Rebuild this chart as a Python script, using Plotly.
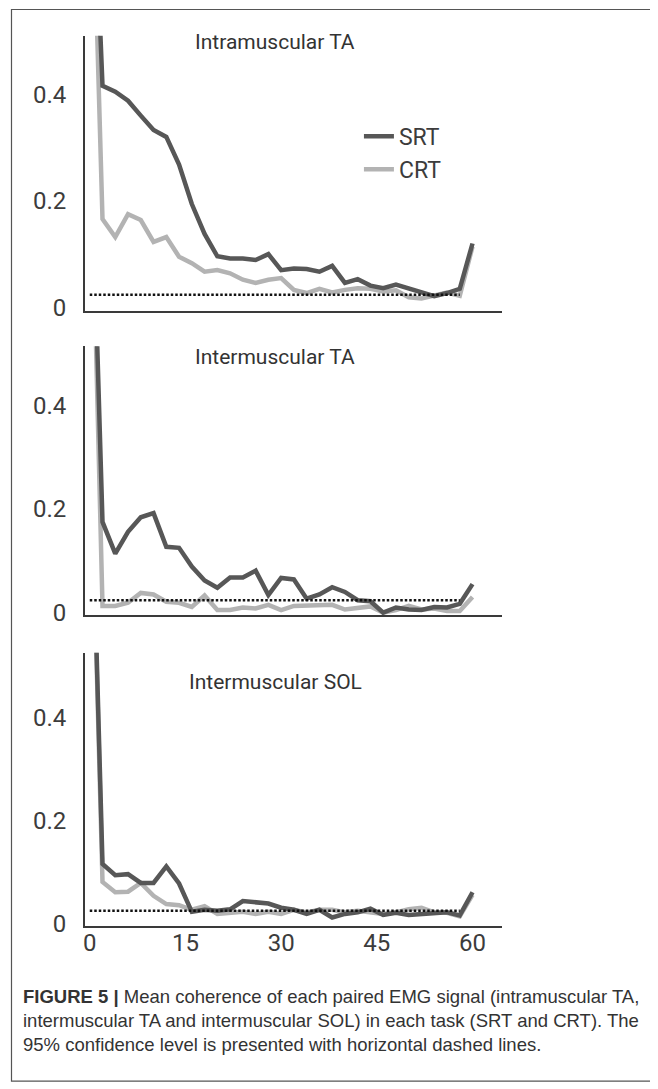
import plotly.graph_objects as go

# ---------------- data ----------------
freq = [0, 2, 4, 6, 8, 10, 12, 14, 16, 18, 20, 22, 24, 26, 28, 30,
        32, 34, 36, 38, 40, 42, 44, 46, 48, 50, 52, 54, 56, 58, 60]

intra_ta_srt = [1.0, 0.416, 0.405, 0.388, 0.360, 0.333, 0.320, 0.268, 0.194, 0.138, 0.096,
                0.092, 0.092, 0.089, 0.100, 0.070, 0.073, 0.072, 0.067, 0.078, 0.046,
                0.053, 0.041, 0.036, 0.043, 0.036, 0.030, 0.021, 0.027, 0.035, 0.120]
intra_ta_crt = [1.0, 0.166, 0.132, 0.175, 0.164, 0.123, 0.132, 0.095, 0.083, 0.067, 0.070,
                0.064, 0.052, 0.046, 0.052, 0.055, 0.033, 0.027, 0.035, 0.028, 0.033,
                0.036, 0.035, 0.030, 0.032, 0.019, 0.017, 0.022, 0.028, 0.022, 0.114]

inter_ta_srt = [1.0, 0.175, 0.114, 0.156, 0.184, 0.192, 0.127, 0.125, 0.089, 0.062, 0.048,
                0.068, 0.068, 0.081, 0.034, 0.067, 0.064, 0.027, 0.035, 0.049, 0.040,
                0.024, 0.022, 0.000, 0.010, 0.006, 0.005, 0.011, 0.010, 0.017, 0.055]
inter_ta_crt = [1.0, 0.013, 0.013, 0.019, 0.038, 0.035, 0.021, 0.019, 0.011, 0.033, 0.005,
                0.005, 0.010, 0.008, 0.015, 0.005, 0.013, 0.013, 0.015, 0.015, 0.006,
                0.010, 0.012, 0.000, 0.005, 0.013, 0.006, 0.008, 0.003, 0.003, 0.030]

inter_sol_srt = [1.0, 0.116, 0.094, 0.096, 0.079, 0.079, 0.111, 0.078, 0.023, 0.027, 0.025,
                 0.028, 0.044, 0.041, 0.039, 0.031, 0.027, 0.019, 0.027, 0.012, 0.019,
                 0.022, 0.029, 0.017, 0.021, 0.017, 0.019, 0.022, 0.022, 0.016, 0.061]
inter_sol_crt = [1.0, 0.081, 0.061, 0.062, 0.079, 0.054, 0.038, 0.036, 0.027, 0.034, 0.019,
                 0.021, 0.023, 0.019, 0.023, 0.019, 0.027, 0.022, 0.027, 0.027, 0.022,
                 0.025, 0.023, 0.019, 0.022, 0.028, 0.031, 0.022, 0.021, 0.014, 0.056]

panel_titles = ["Intramuscular TA", "Intermuscular TA", "Intermuscular SOL"]
conf_level = [0.024, 0.024, 0.025]
conf_x = [0, 58]
y_tickvals = [0, 0.2, 0.4]
y_ticktext = ["0", "0.2", "0.4"]
x_tickvals = [0, 15, 30, 45, 60]
x_ticktext = ["0", "15", "30", "45", "60"]

# ---------------- layout geometry ----------------
W, H = 658, 1089
SRT_COLOR = "#575757"
CRT_COLOR = "#b3b3b3"
AX_COLOR = "#3a3a3a"
TXT_COLOR = "#3c3c3c"
FONT = "Roboto, 'Liberation Sans', sans-serif"

x_px = (75, 494)
x_range = [-0.78, 64.7]
panels_px = [(28, 306), (342, 614), (652, 928)]
y_ranges = [[-0.006, 0.51], [-0.005, 0.514], [-0.004, 0.525]]
title_px = [(266, 34), (266, 353), (266, 682)]

srt_series = [intra_ta_srt, inter_ta_srt, inter_sol_srt]
crt_series = [intra_ta_crt, inter_ta_crt, inter_sol_crt]

fig = go.Figure()

for i in range(3):
    xa = "x" if i == 0 else f"x{i+1}"
    ya = "y" if i == 0 else f"y{i+1}"
    fig.add_trace(go.Scatter(x=freq, y=crt_series[i], mode="lines", name="CRT",
                             line=dict(color=CRT_COLOR, width=4.5),
                             showlegend=(i == 0), legendrank=2,
                             xaxis=xa, yaxis=ya, hoverinfo="skip"))
    fig.add_trace(go.Scatter(x=freq, y=srt_series[i], mode="lines", name="SRT",
                             line=dict(color=SRT_COLOR, width=4.5),
                             showlegend=(i == 0), legendrank=1,
                             xaxis=xa, yaxis=ya, hoverinfo="skip"))
    fig.add_trace(go.Scatter(x=conf_x, y=[conf_level[i]] * 2, mode="lines",
                             line=dict(color="#111111", width=2.5, dash="2.5px,2px"),
                             showlegend=False, xaxis=xa, yaxis=ya, hoverinfo="skip"))

layout = dict(
    width=W, height=H,
    margin=dict(l=0, r=0, t=0, b=0),
    paper_bgcolor="white", plot_bgcolor="white",
    font=dict(family=FONT, color=TXT_COLOR),
    legend=dict(x=350 / W, y=1 - 108 / H, xanchor="left", yanchor="top",
                font=dict(size=23, color=TXT_COLOR), bgcolor="rgba(0,0,0,0)",
                tracegroupgap=0, itemwidth=30),
    showlegend=True,
)

for i in range(3):
    top, bot = panels_px[i]
    xk = "xaxis" if i == 0 else f"xaxis{i+1}"
    yk = "yaxis" if i == 0 else f"yaxis{i+1}"
    ya = "y" if i == 0 else f"y{i+1}"
    xa = "x" if i == 0 else f"x{i+1}"
    layout[xk] = dict(domain=[x_px[0] / W, x_px[1] / W], range=x_range, anchor=ya,
                      showline=True, linecolor=AX_COLOR, linewidth=1.5,
                      showgrid=False, zeroline=False,
                      tickvals=x_tickvals, ticktext=x_ticktext,
                      showticklabels=(i == 2), ticks="", ticklabelstandoff=-5,
                      tickfont=dict(size=24, color=TXT_COLOR))
    layout[yk] = dict(domain=[1 - bot / H, 1 - top / H], range=y_ranges[i], anchor=xa,
                      showline=True, linecolor=AX_COLOR, linewidth=1.5,
                      showgrid=False, zeroline=False,
                      tickvals=y_tickvals, ticktext=y_ticktext,
                      ticks="outside", ticklen=12, tickcolor="rgba(0,0,0,0)",
                      tickfont=dict(size=24, color=TXT_COLOR))

fig.update_layout(**layout)

for i in range(3):
    tx, ty = title_px[i]
    fig.add_annotation(text=panel_titles[i], x=tx / W, y=1 - ty / H,
                       xref="paper", yref="paper", showarrow=False,
                       xanchor="center", yanchor="middle",
                       font=dict(size=21, color="#333333", family=FONT))

# caption
caption = ("<b>FIGURE 5 |</b> Mean coherence of each paired EMG signal (intramuscular TA,<br>"
           "intermuscular TA and intermuscular SOL) in each task (SRT and CRT). The<br>"
           "95% confidence level is presented with horizontal dashed lines.")
fig.add_annotation(text=caption, x=11 / W, y=1 - 987 / H, xref="paper", yref="paper",
                   showarrow=False, xanchor="left", yanchor="top", align="left",
                   font=dict(size=18.5, color="#333333", family="'Liberation Sans', Arial, sans-serif"))

# outer frame
fig.add_shape(type="rect", xref="paper", yref="paper",
              x0=1.5 / W, x1=650 / W, y0=1 - 1085 / H, y1=1 - 1.5 / H,
              line=dict(color="#555555", width=1.2))

fig.write_html("out.html")
